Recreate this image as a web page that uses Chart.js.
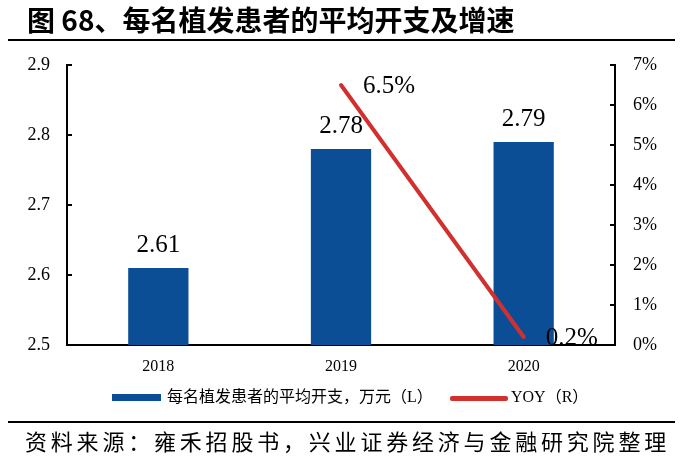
<!DOCTYPE html>
<html><head><meta charset="utf-8">
<script src="https://cdn.jsdelivr.net/npm/chart.js@4/dist/chart.umd.min.js"></script>
<style>
html,body{margin:0;padding:0;background:#fff;}
#wrap{position:relative;width:682px;height:460px;overflow:hidden;}
canvas{position:absolute;left:0;top:0;}
.abs{position:absolute;white-space:nowrap;color:#000;}
#title{left:27px;top:3px;font:bold 28px "Noto Sans CJK SC";line-height:32px;}
.rule{position:absolute;left:8px;width:667px;height:2px;background:#000;}
#src{left:25px;top:425px;font:22px "Noto Sans CJK SC";line-height:30px;letter-spacing:3.8px;}
.leg{font:16px "Liberation Serif","Noto Sans CJK SC";line-height:20px;top:387px;}
</style></head>
<body><div id="wrap">
<canvas id="c" width="682" height="460"></canvas>
<div id="title" class="abs">图 68、每名植发患者的平均开支及增速</div>
<div class="rule" style="top:39px"></div>
<div class="rule" style="top:421px"></div>
<div id="src" class="abs">资料来源：雍禾招股书，兴业证券经济与金融研究院整理</div>
<div class="abs" style="left:112px;top:394px;width:49px;height:7px;background:#0c4e96"></div>
<div class="abs leg" style="left:167px;">每名植发患者的平均开支，万元（L）</div>
<div class="abs" style="left:450px;top:396px;width:58px;height:5px;border-radius:2px;background:#d2302f"></div>
<div class="abs leg" style="left:511px;">YOY（R）</div>
</div>
<script>
const categories = ['2018', '2019', '2020'];
const spending = [2.61, 2.78, 2.79];
const yoy = [null, 6.5, 0.2];
const leftTicks = [2.5, 2.6, 2.7, 2.8, 2.9];
const rightTicks = [0, 1, 2, 3, 4, 5, 6, 7];

const BLUE = '#0c4e96';
const RED = '#d2302f';
const SERIF = '"Liberation Serif", "Times New Roman", serif';

const labelPlugin = {
  id: 'labels',
  afterDatasetsDraw(chart) {
    const ctx = chart.ctx;
    ctx.save();
    ctx.fillStyle = '#000';
    ctx.font = '25px ' + SERIF;
    const barMeta = chart.getDatasetMeta(0);
    barMeta.data.forEach((el, i) => {
      ctx.textAlign = 'center';
      ctx.textBaseline = 'alphabetic';
      ctx.fillText(spending[i].toFixed(2), el.x, el.y - 16);
    });
    const lineMeta = chart.getDatasetMeta(1);
    lineMeta.data.forEach((el, i) => {
      if (yoy[i] === null) return;
      ctx.textAlign = 'left';
      ctx.textBaseline = 'alphabetic';
      ctx.fillText(yoy[i].toFixed(1) + '%', el.x + 22, el.y + 8);
    });
    // inward tick marks
    ctx.strokeStyle = '#000';
    ctx.lineWidth = 2;
    const y = chart.scales.y, y1 = chart.scales.y1;
    leftTicks.forEach(v => {
      const p = Math.round(y.getPixelForValue(v));
      ctx.beginPath(); ctx.moveTo(y.right, p); ctx.lineTo(y.right + 5, p); ctx.stroke();
    });
    rightTicks.forEach(v => {
      const p = Math.round(y1.getPixelForValue(v));
      ctx.beginPath(); ctx.moveTo(y1.left - 5, p); ctx.lineTo(y1.left, p); ctx.stroke();
    });
    ctx.restore();
  }
};

new Chart(document.getElementById('c'), {
  data: {
    labels: categories,
    datasets: [
      {
        type: 'bar', data: spending, yAxisID: 'y', backgroundColor: BLUE,
        categoryPercentage: 1, barPercentage: 0.33, order: 2
      },
      {
        type: 'line', data: yoy, yAxisID: 'y1', borderColor: RED, borderWidth: 4,
        pointRadius: 0, spanGaps: false, order: 1, borderCapStyle: 'round'
      }
    ]
  },
  options: {
    responsive: false,
    animation: false,
    devicePixelRatio: 1,
    layout: { padding: { top: 65, bottom: 85, left: 0, right: 0 } },
    plugins: { legend: { display: false }, tooltip: { enabled: false } },
    scales: {
      x: {
        offset: true,
        grid: { display: false, drawTicks: false },
        border: { display: true, color: '#000', width: 2 },
        ticks: { color: '#000', font: { family: SERIF, size: 16 }, padding: 12 },
        afterFit(s) { s.height = 30; }
      },
      y: {
        position: 'left', min: 2.5, max: 2.9,
        grid: { display: false, drawTicks: false },
        border: { display: true, color: '#000', width: 2 },
        ticks: { color: '#000', font: { family: SERIF, size: 18 }, padding: 17,
                 callback: v => Number(v).toFixed(1) },
        afterBuildTicks(s) { s.ticks = leftTicks.map(v => ({ value: v })); },
        afterFit(s) { s.width = 67; }
      },
      y1: {
        position: 'right', min: 0, max: 7,
        grid: { display: false, drawTicks: false },
        border: { display: true, color: '#000', width: 2 },
        ticks: { color: '#000', font: { family: SERIF, size: 18 }, padding: 18,
                 callback: v => v + '%' },
        afterBuildTicks(s) { s.ticks = rightTicks.map(v => ({ value: v })); },
        afterFit(s) { s.width = 67; }
      }
    }
  },
  plugins: [labelPlugin]
});
</script>
</body></html>
